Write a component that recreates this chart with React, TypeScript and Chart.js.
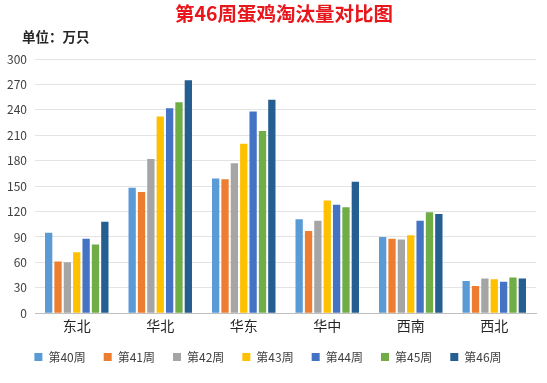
import React, { useEffect, useRef } from "react";
import { Chart, registerables } from "chart.js";

Chart.register(...registerables);

const categories = ["东北", "华北", "华东", "华中", "西南", "西北"];
const seriesNames = ["第40周", "第41周", "第42周", "第43周", "第44周", "第45周", "第46周"];
const w40 = [95, 148, 159, 111, 90, 38];
const w41 = [61, 143, 158, 97, 88, 32];
const w42 = [60, 182, 177, 109, 87, 41];
const w43 = [72, 232, 200, 133, 92, 40];
const w44 = [88, 242, 238, 128, 109, 37];
const w45 = [81, 249, 215, 125, 119, 42];
const w46 = [108, 275, 252, 155, 117, 41];
const seriesValues = [w40, w41, w42, w43, w44, w45, w46];
const colors = ["#5B9BD5", "#ED7D31", "#A5A5A5", "#FFC000", "#4472C4", "#70AD47", "#255E91"];
const titleText = "第46周蛋鸡淘汰量对比图";
const unitText = "单位：万只";

const FONT = "'Noto Sans CJK SC', 'Noto Sans', sans-serif";

export default function App() {
  const ref = useRef<HTMLCanvasElement>(null);
  useEffect(() => {
    if (!ref.current) return;
    const textPlugin = {
      id: "texts",
      afterDraw(chart: any) {
        const ctx = chart.ctx;
        ctx.save();
        ctx.fillStyle = "#E8151B";
        ctx.font = `bold 19.5px ${FONT}`;
        ctx.textAlign = "center";
        ctx.textBaseline = "middle";
        ctx.fillText(titleText, 284, 14);
        ctx.fillStyle = "#262626";
        ctx.font = `bold 13.5px ${FONT}`;
        ctx.textAlign = "left";
        ctx.fillText(unitText, 22, 37);
        ctx.restore();
      },
    };
    const chart = new Chart(ref.current, {
      type: "bar",
      data: {
        labels: categories,
        datasets: seriesNames.map((n, i) => ({
          label: n,
          data: seriesValues[i],
          backgroundColor: colors[i],
          categoryPercentage: 0.785,
          barPercentage: 0.78,
        })),
      },
      options: {
        animation: false,
        responsive: false,
        layout: { padding: { top: 59, right: 11, left: 0, bottom: 10 } },
        plugins: {
          legend: {
            position: "bottom",
            labels: {
              boxWidth: 8,
              boxHeight: 8,
              padding: 18,
              color: "#404040",
              font: { size: 12, family: FONT },
            },
          },
          title: { display: false },
          tooltip: { enabled: false },
        },
        scales: {
          x: {
            grid: { display: false, drawTicks: false },
            border: { display: true, color: "#BFBFBF" },
            afterFit(scale: any) {
              scale.height -= 5;
            },
            ticks: { color: "#262626", font: { size: 14, family: FONT }, padding: 4 },
          },
          y: {
            min: 0,
            max: 300,
            afterFit(scale: any) {
              scale.width = 35;
            },
            ticks: {
              stepSize: 30,
              color: "#404040",
              padding: 8,
              font: { size: 12, family: FONT },
            },
            grid: { color: "#E3E3E3", drawTicks: false },
            border: { display: false },
          },
        },
      },
      plugins: [textPlugin],
    });
    return () => chart.destroy();
  }, []);
  return (
    <div style={{ position: "absolute", left: 0, top: 0, width: 547, height: 383, background: "#fff" }}>
      <canvas ref={ref} width={547} height={383} style={{ width: 547, height: 383 }} />
    </div>
  );
}
